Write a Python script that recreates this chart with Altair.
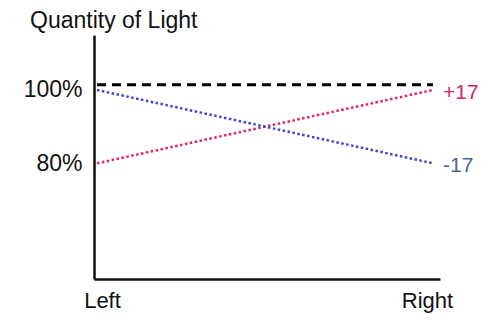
import altair as alt
import pandas as pd

# data
positions = [0, 1]
position_labels = ["Left", "Right"]
blue_values = [100, 80]
red_values = [80, 100]
reference_value = [101.4, 101.4]
y_tick_values = [80, 100]
end_labels = ["+17", "-17"]
end_label_y = [100, 80]

lines = pd.DataFrame({
    "x": positions * 3,
    "y": reference_value + red_values + blue_values,
    "series": ["ref"] * 2 + ["red"] * 2 + ["blue"] * 2,
})
labels = pd.DataFrame({"x": [1, 1], "y": end_label_y, "label": end_labels,
                       "series": ["red", "blue"]})

FONT = "Liberation Sans"
xs = alt.Scale(domain=[-0.0089, 1.0208], nice=False, zero=False)
ys = alt.Scale(domain=[48.43, 115.0], nice=False, zero=False)

x_axis = alt.Axis(values=positions, title=None, ticks=False, grid=False,
                  labelExpr="datum.value < 0.5 ? 'Left' : 'Right'",
                  labelFontSize=22, labelFont=FONT, labelColor="#111",
                  labelPadding=11, labelAngle=0,
                  labelOffset=alt.ExprRef("datum.value < 0.5 ? 5 : -6"),
                  domainColor="#111", domainWidth=2.5)
y_axis = alt.Axis(values=y_tick_values, title=None, ticks=False, grid=False,
                  labelExpr="datum.value + '%'",
                  labelFontSize=23, labelFont=FONT, labelColor="#111",
                  labelPadding=12, domainColor="#111", domainWidth=2.5)

base = alt.Chart(lines)

ref = base.transform_filter("datum.series == 'ref'").mark_line(
    color="#000", strokeWidth=3, strokeDash=[9, 6]
).encode(x=alt.X("x:Q", scale=xs, axis=x_axis), y=alt.Y("y:Q", scale=ys, axis=y_axis))

red = base.transform_filter("datum.series == 'red'").mark_line(
    color="#e0245e", strokeWidth=2.5, strokeDash=[2.5, 2.5]
).encode(x=alt.X("x:Q", scale=xs), y=alt.Y("y:Q", scale=ys))

blue = base.transform_filter("datum.series == 'blue'").mark_line(
    color="#4545c8", strokeWidth=2.5, strokeDash=[2.5, 2.5]
).encode(x=alt.X("x:Q", scale=xs), y=alt.Y("y:Q", scale=ys))

txt = alt.Chart(labels).mark_text(
    align="left", baseline="middle", dx=10, dy=3, fontSize=21, font=FONT
).encode(
    x=alt.X("x:Q", scale=xs), y=alt.Y("y:Q", scale=ys), text="label:N",
    color=alt.Color("series:N", scale=alt.Scale(domain=["red", "blue"],
                                                  range=["#d6245e", "#4a6890"]),
                    legend=None),
)

chart = alt.layer(ref, red, blue, txt).properties(
    width=346, height=244,
    title=alt.TitleParams("Quantity of Light", anchor="start", frame="group",
                          fontSize=23, font=FONT, fontWeight="normal",
                          color="#111", dx=-64, offset=2),
    autosize=alt.AutoSizeParams(type="none"),
    padding={"left": 86, "top": 27, "right": 40, "bottom": 35},
).configure_view(stroke=None)

chart.save("out.html", embed_options={"renderer": "svg", "actions": False})
